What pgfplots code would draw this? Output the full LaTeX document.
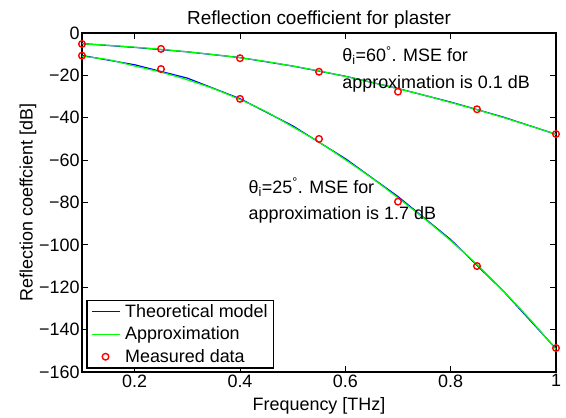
\documentclass[border=0pt]{standalone}
\usepackage{fontspec}
\setmainfont{Liberation Sans}
\usepackage{pgfplots}
\pgfplotsset{compat=1.18}

% Theoretical model (coarse grid)
\pgfplotstableread{
f     r25     r60
0.1  -10.6   -5.0
0.2  -15.0   -6.8
0.3  -21.3   -8.9
0.4  -31.0  -11.6
0.5  -43.8  -15.6
0.6  -59.3  -20.4
0.7  -77.2  -26.2
0.8  -97.5  -32.6
0.9 -121.8  -39.7
1.0 -149.0  -47.8
}\theory

% Approximation
\pgfplotstableread{
f     r25     r60
0.10  -11.0   -5.1
0.15  -12.6   -5.8
0.20  -15.6   -6.7
0.25  -18.5   -7.7
0.30  -22.1   -8.9
0.35  -26.3  -10.2
0.40  -31.4  -11.7
0.45  -37.2  -13.5
0.50  -44.3  -15.6
0.55  -51.5  -17.9
0.60  -59.8  -20.5
0.65  -68.4  -23.3
0.70  -77.8  -26.3
0.75  -87.6  -29.4
0.80  -98.0  -32.8
0.85 -109.3  -36.2
0.90 -121.8  -39.9
0.95 -135.0  -43.8
1.00 -149.3  -47.8
}\approxim

% Measured data
\pgfplotstableread{
f     r25     r60
0.10  -10.7   -5.2
0.25  -17.0   -7.5
0.40  -31.1  -11.9
0.55  -50.0  -18.3
0.70  -79.6  -27.7
0.85 -110.0  -36.0
1.00 -148.7  -47.7
}\measured

\newcommand{\basefont}{\fontsize{18}{21}\selectfont}
\newcommand{\titlefont}{\fontsize{19}{22}\selectfont}

\begin{document}
\begin{tikzpicture}
\begin{axis}[
  scale only axis,
  width=474bp, height=339bp,
  xmin=0.1, xmax=1, ymin=-160, ymax=0,
  xtick={0.2,0.4,0.6,0.8,1},
  xticklabels={0.2,0.4,0.6,0.8,1},
  ytick={-160,-140,-120,-100,-80,-60,-40,-20,0},
  yticklabels={−160,−140,−120,−100,−80,−60,−40,−20,0},
  tick align=inside,
  major tick length=6bp,
  axis line style={line width=1.3bp},
  every tick/.style={black, line width=0.9bp},
  tick label style={font=\basefont},
  xticklabel style={yshift=1bp},
  yticklabel style={xshift=1bp},
  title={Reflection coefficient for plaster},
  title style={font=\titlefont, yshift=-5bp},
  xlabel={Frequency [THz]},
  xlabel style={font=\basefont, yshift=-3bp},
  ylabel={Reflection coeffcient [dB]},
  ylabel style={font=\basefont, yshift=-4bp},
  legend style={at={(0.009,0.01)}, anchor=south west, draw=black,
    line width=1.3bp, inner xsep=4bp, inner ysep=2bp, row sep=4bp,
    column sep=3bp, font=\basefont, cells={anchor=west}},
  legend image code/.code={\draw[mark repeat=2,mark phase=2,#1,line width=1.2bp]
    plot coordinates {(0bp,0bp) (14bp,0bp) (28bp,0bp)};},
]
\addplot[blue, line width=1.2bp] table[x=f,y=r25] {\theory};
\addlegendentry{Theoretical model}
\addplot[blue, line width=1.2bp, forget plot] table[x=f,y=r60] {\theory};
\addplot[green, line width=1.2bp, smooth] table[x=f,y=r25] {\approxim};
\addlegendentry{Approximation}
\addplot[green, line width=1.2bp, smooth, forget plot] table[x=f,y=r60] {\approxim};
\addplot[only marks, mark=o, mark size=3.3bp, red, mark options={line width=1.4bp}]
  table[x=f,y=r25] {\measured};
\addlegendentry{Measured data}
\addplot[only marks, mark=o, mark size=3.3bp, red, mark options={line width=1.4bp}, forget plot]
  table[x=f,y=r60] {\measured};

\node[anchor=base west, inner sep=0pt, font=\basefont] at (axis cs:0.594,-13.5)
  {θ\textsubscript{i}=60\textsuperscript{°}. MSE for};
\node[anchor=base west, inner sep=0pt, font=\basefont] at (axis cs:0.594,-26.1)
  {approximation is 0.1 dB};
\node[anchor=base west, inner sep=0pt, font=\basefont] at (axis cs:0.416,-75.6)
  {θ\textsubscript{i}=25\textsuperscript{°}. MSE for};
\node[anchor=base west, inner sep=0pt, font=\basefont] at (axis cs:0.416,-88.2)
  {approximation is 1.7 dB};
\end{axis}
% page frame around the axis and its labels
\path ([shift={(-82bp,-45bp)}]current axis.south west)
  rectangle ([shift={(10bp,33bp)}]current axis.north east);
\end{tikzpicture}
\end{document}
